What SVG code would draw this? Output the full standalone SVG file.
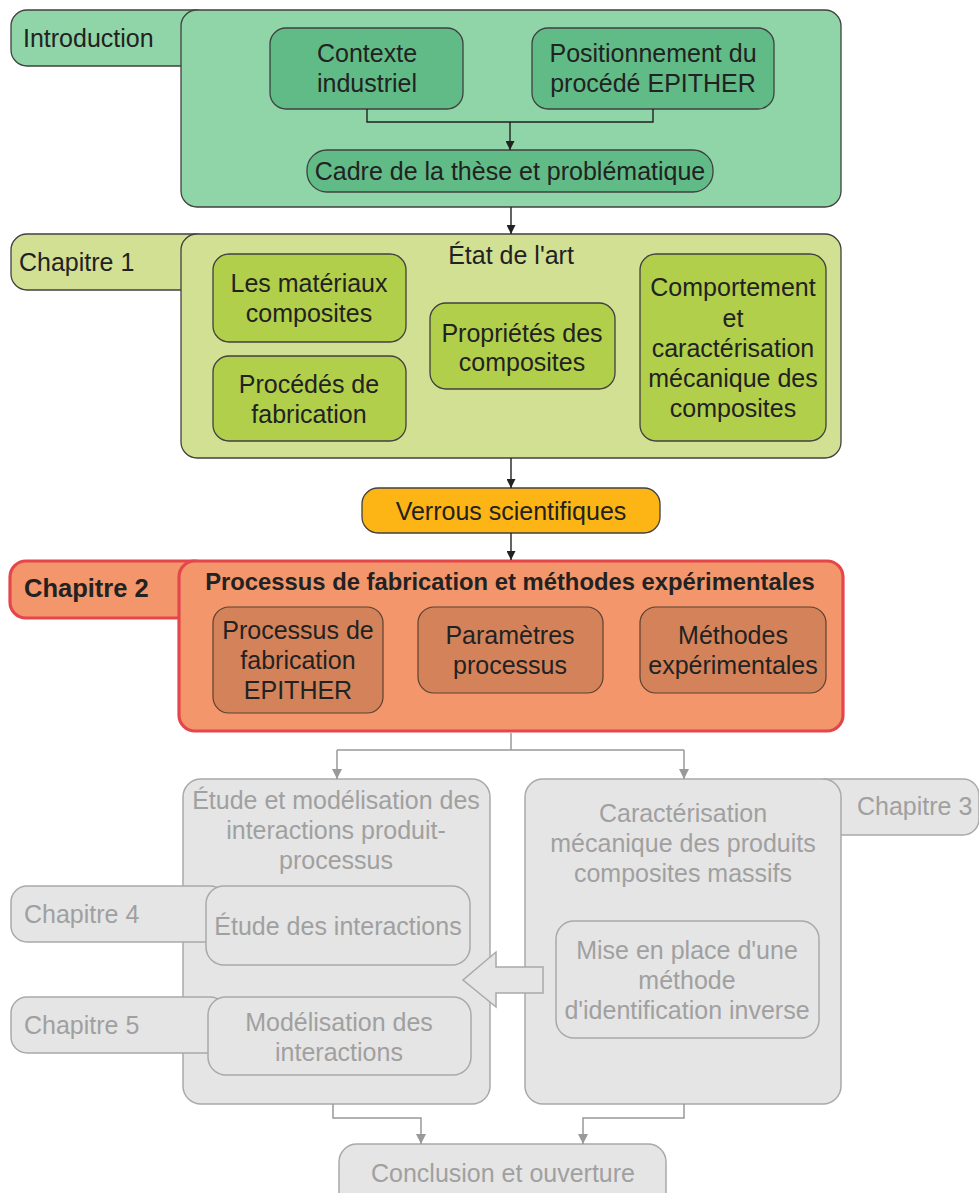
<svg xmlns="http://www.w3.org/2000/svg" width="979" height="1193" viewBox="0 0 979 1193">
<defs>
<style>
text{font-family:"Liberation Sans",Arial,sans-serif;font-size:25px;fill:#222;text-anchor:middle}
.l{text-anchor:start}
.b{font-weight:bold}
.g{fill:#a0a0a0}
.dk{stroke:#404040;stroke-width:1.3}
.introM{fill:#8fd5a7}
.introI{fill:#60bb86}
.c1M{fill:#d2e094}
.c1I{fill:#b1cf4a}
.ver{fill:#fdb515}
.c2M{fill:#f3966b;stroke:#e4464c;stroke-width:3.2}
.c2I{fill:#d4825a;stroke:#5a4030;stroke-width:1.2}
.gr{fill:#e5e5e5;stroke:#a9a9a9;stroke-width:1.5}
.cd{fill:none;stroke:#222;stroke-width:1.4}
.cg{fill:none;stroke:#999;stroke-width:1.5}
</style>
<marker id="ad" viewBox="0 0 10 10" refX="10" refY="5" markerWidth="9" markerHeight="9" markerUnits="userSpaceOnUse" orient="auto"><path d="M0,0 L10,5 L0,10 z" fill="#222"/></marker>
<marker id="ag" viewBox="0 0 10 10" refX="10" refY="5" markerWidth="10" markerHeight="10" markerUnits="userSpaceOnUse" orient="auto"><path d="M0,0 L10,5 L0,10 z" fill="#999"/></marker>
</defs>
<rect width="979" height="1193" fill="#fff"/>

<g id="introduction">
<rect class="introM dk" x="11" y="10" width="200" height="56" rx="16"/>
<rect class="introM dk" x="181" y="10" width="660" height="197" rx="16"/>
<text class="l" x="23" y="47">Introduction</text>
</g>
<g id="contexte">
<rect class="introI dk" x="270" y="28" width="193" height="81" rx="16"/>
<text x="367" y="62">Contexte</text><text x="367" y="92">industriel</text>
</g>
<g id="positionnement">
<rect class="introI dk" x="532" y="28" width="242" height="81" rx="16"/>
<text x="653" y="62">Positionnement du</text><text x="653" y="92">procédé EPITHER</text>
</g>
<g id="cadre">
<rect class="introI dk" x="307" y="150" width="406" height="42" rx="20"/>
<text x="510" y="180">Cadre de la thèse et problématique</text>
</g>

<g id="chapitre1">
<rect class="c1M dk" x="11" y="234" width="200" height="56" rx="16"/>
<rect class="c1M dk" x="181" y="234" width="660" height="224" rx="16"/>
<text class="l" x="19" y="271">Chapitre 1</text>
<text x="511" y="264">État de l'art</text>
</g>
<g id="materiaux">
<rect class="c1I dk" x="213" y="254" width="193" height="88" rx="16"/>
<text x="309" y="292">Les matériaux</text><text x="309" y="322">composites</text>
</g>
<g id="procedes">
<rect class="c1I dk" x="213" y="356" width="193" height="85" rx="16"/>
<text x="309" y="393">Procédés de</text><text x="309" y="423">fabrication</text>
</g>
<g id="proprietes">
<rect class="c1I dk" x="430" y="303" width="185" height="86" rx="16"/>
<text x="522" y="342">Propriétés des</text><text x="522" y="371">composites</text>
</g>
<g id="comportement">
<rect class="c1I dk" x="640" y="254" width="186" height="187" rx="16"/>
<text x="733" y="296">Comportement</text><text x="733" y="327">et</text><text x="733" y="357">caractérisation</text><text x="733" y="387">mécanique des</text><text x="733" y="417">composites</text>
</g>

<g id="verrous">
<rect class="ver dk" x="362" y="488" width="298" height="45" rx="16"/>
<text x="511" y="520">Verrous scientifiques</text>
</g>

<g id="chapitre2">
<rect class="c2M" x="10" y="561" width="200" height="57" rx="16"/>
<rect class="c2M" x="179" y="561" width="664" height="170" rx="16"/>
<text class="l b" x="24" y="597" style="font-size:25.5px">Chapitre 2</text>
<text class="b" x="510" y="590" style="font-size:23.8px">Processus de fabrication et méthodes expérimentales</text>
</g>
<g id="processusEpither">
<rect class="c2I" x="213" y="607" width="170" height="106" rx="16"/>
<text x="298" y="639">Processus de</text><text x="298" y="669">fabrication</text><text x="298" y="699">EPITHER</text>
</g>
<g id="parametres">
<rect class="c2I" x="418" y="607" width="185" height="86" rx="16"/>
<text x="510" y="644">Paramètres</text><text x="510" y="674">processus</text>
</g>
<g id="methodes">
<rect class="c2I" x="640" y="607" width="186" height="86" rx="16"/>
<text x="733" y="644">Méthodes</text><text x="733" y="674">expérimentales</text>
</g>

<g id="chapitre3">
<rect class="gr" x="810" y="779" width="169" height="56" rx="16"/>
<rect class="gr" x="525" y="779" width="316" height="325" rx="18"/>
<text class="l g" x="857" y="815">Chapitre 3</text>
<text class="g" x="683" y="822">Caractérisation</text><text class="g" x="683" y="852">mécanique des produits</text><text class="g" x="683" y="882">composites massifs</text>
</g>
<g id="miseEnPlace">
<rect class="gr" x="556" y="921" width="263" height="117" rx="18"/>
<text class="g" x="687" y="959">Mise en place d'une</text><text class="g" x="687" y="989">méthode</text><text class="g" x="687" y="1019">d'identification inverse</text>
</g>

<g id="etudeModelisation">
<rect class="gr" x="183" y="779" width="307" height="325" rx="18"/>
<text class="g" x="336" y="809">Étude et modélisation des</text><text class="g" x="336" y="839">interactions produit-</text><text class="g" x="336" y="869">processus</text>
</g>
<g id="chapitre4">
<rect class="gr" x="11" y="886" width="215" height="56" rx="16"/>
<text class="l g" x="24" y="923">Chapitre 4</text>
</g>
<g id="etudeInteractions">
<rect class="gr" x="206" y="886" width="264" height="79" rx="18"/>
<text class="g" x="338" y="935">Étude des interactions</text>
</g>
<g id="chapitre5">
<rect class="gr" x="11" y="997" width="215" height="56" rx="16"/>
<text class="l g" x="24" y="1034">Chapitre 5</text>
</g>
<g id="modelisation">
<rect class="gr" x="208" y="997" width="263" height="78" rx="18"/>
<text class="g" x="339" y="1031">Modélisation des</text><text class="g" x="339" y="1061">interactions</text>
</g>

<g id="conclusion">
<rect class="gr" x="339" y="1144" width="327" height="70" rx="18"/>
<text class="g" x="503" y="1182">Conclusion et ouverture</text>
</g>

<g id="connectors">
<path class="cd" d="M367,109 V122 H653 V109"/>
<path class="cd" d="M510,122 V150" marker-end="url(#ad)"/>
<path class="cd" d="M511,207 V234" marker-end="url(#ad)"/>
<path class="cd" d="M511,458 V488" marker-end="url(#ad)"/>
<path class="cd" d="M511,533 V560" marker-end="url(#ad)"/>
<path class="cg" d="M511,733 V750"/>
<path class="cg" d="M337,750 H684"/>
<path class="cg" d="M337,750 V779" marker-end="url(#ag)"/>
<path class="cg" d="M684,750 V779" marker-end="url(#ag)"/>
<path class="cg" d="M333,1104 V1118 H421 V1144" marker-end="url(#ag)"/>
<path class="cg" d="M684,1104 V1118 H583 V1144" marker-end="url(#ag)"/>
<polygon class="gr" points="543,967 496,967 496,952 463,980 496,1007 496,993 543,993"/>
</g>
</svg>
